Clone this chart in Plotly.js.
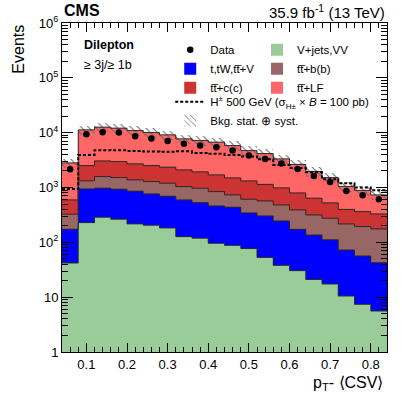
<!DOCTYPE html>
<html>
<head>
<meta charset="utf-8">
<script src="https://cdn.plot.ly/plotly-3.0.1.min.js"></script>
<style>
  html, body { margin: 0; padding: 0; background: #ffffff; }
  #chart { width: 407px; height: 395px; }
</style>
</head>
<body>
<div id="chart"></div>
<script>
// bin edges of pT-<CSV>
const binEdges = [0.04, 0.08, 0.12, 0.16, 0.20, 0.24, 0.28, 0.32, 0.36, 0.40, 0.44,
                  0.48, 0.52, 0.56, 0.60, 0.64, 0.68, 0.72, 0.76, 0.80, 0.84];

// background components (events per bin), bottom of the stack first
const vjetsVV = [42, 229, 287, 264, 217, 205, 183, 127, 119, 96, 88, 77, 53, 38, 30.5, 21, 17.4, 10.5, 7.4, 5.6];
const singleTopV = [131, 714, 684, 667, 639, 559, 510, 467, 411, 365, 349, 267, 250, 208, 142, 115, 94, 62, 49, 37];
const ttbb = [153, 377, 610, 586, 520, 518, 505, 444, 441, 381, 296, 267, 266, 235, 217, 180, 164, 144, 138, 133];
const ttcc = [268, 1192, 1474, 1453, 1321, 1230, 1147, 1057, 956, 856, 764, 709, 571, 503, 407, 322, 249, 182, 169, 154];
const ttlf = [2218, 8738, 9545, 9110, 8223, 7528, 6775, 5615, 5253, 5012, 4323, 3390, 3020, 2341, 1843, 1329, 993, 648, 522, 403];

// observed data and H+ 500 GeV signal
const dataEvents = [2158, 9390, 10200, 10050, 8630, 7810, 7080, 6250, 5820, 5430, 4720, 3820, 3325, 2730, 2185, 1628, 1265, 867, 721, 611];
const signalH = [943, 3935, 4795, 4755, 4655, 4520, 4465, 4560, 4280, 4105, 3935, 3695, 3258, 2584, 2278, 1888, 1417, 1198, 995, 893];

// relative bkg. stat + syst uncertainty per bin
const uncFrac = [0.2, 0.2, 0.2, 0.2, 0.2, 0.2, 0.2, 0.2, 0.2, 0.2, 0.2, 0.2, 0.2, 0.2, 0.2, 0.2, 0.2, 0.2, 0.2, 0.2];

const TT = 't\u0305';  // t-bar
const FONT = 'Liberation Sans, Arial, Helvetica, sans-serif';

const centers = binEdges.slice(0, -1).map((e, i) => (e + binEdges[i + 1]) / 2);
const widths = binEdges.slice(0, -1).map((e, i) => binEdges[i + 1] - e);

// cumulative stack; leg = which legend column it goes in
const components = [
  { name: 'V+jets,VV', vals: vjetsVV, color: '#99cc99', leg: 'legend3', rank: 1 },
  { name: 't,tW,t' + TT + '+V', vals: singleTopV, color: '#0000ff', leg: 'legend', rank: 2 },
  { name: 't' + TT + '+b(b)', vals: ttbb, color: '#996666', leg: 'legend3', rank: 2 },
  { name: 't' + TT + '+c(c)', vals: ttcc, color: '#cc3333', leg: 'legend', rank: 3 },
  { name: 't' + TT + '+LF', vals: ttlf, color: '#ff6666', leg: 'legend3', rank: 3 }
];
let running = centers.map(() => 0);
components.forEach(c => {
  running = running.map((r, i) => r + c.vals[i]);
  c.cum = running.slice();
});
const total = running;

// step outline helper
const stepY = arr => arr.concat([arr[arr.length - 1]]);

const traces = [];

// filled layers, largest first so smaller ones sit on top
components.slice().reverse().forEach(c => {
  traces.push({
    type: 'bar', x: centers, y: c.cum, width: widths,
    name: c.name, legend: c.leg, legendrank: c.rank,
    marker: { color: c.color, line: { width: 0 } },
    hoverinfo: 'skip'
  });
});
// step outlines of each stack boundary
components.forEach(c => {
  traces.push({
    type: 'scatter', mode: 'lines', x: binEdges, y: stepY(c.cum),
    line: { shape: 'hv', color: '#2a2a2a', width: 1 },
    showlegend: false, hoverinfo: 'skip'
  });
});

// uncertainty band
traces.push({
  type: 'bar', x: centers, width: widths,
  base: total.map((t, i) => t * (1 - uncFrac[i])),
  y: total.map((t, i) => 2 * t * uncFrac[i]),
  name: 'Bkg. stat. \u2295 syst.', legend: 'legend2', legendrank: 2,
  marker: {
    color: 'rgba(0,0,0,0)', line: { width: 0 },
    pattern: { shape: '\\', fgcolor: '#666666', bgcolor: 'rgba(0,0,0,0)', size: 5, solidity: 0.2 }
  },
  hoverinfo: 'skip'
});

// signal
traces.push({
  type: 'scatter', mode: 'lines', x: binEdges, y: stepY(signalH),
  name: 'H<sup>\u00b1</sup> 500 GeV (\u03c3<sub>H\u00b1</sub> \u00d7 <i>B</i> = 100 pb)',
  legend: 'legend2', legendrank: 1,
  line: { shape: 'hv', color: '#000000', width: 2, dash: '3px,2px' }
});

// data
traces.push({
  type: 'scatter', mode: 'markers', x: centers, y: dataEvents,
  name: 'Data', legend: 'legend', legendrank: 1,
  marker: { color: '#000000', size: 6.5 },
  error_y: { type: 'data', array: dataEvents.map(v => Math.sqrt(v)), color: '#000000', thickness: 1, width: 0 }
});

const legendBase = {
  xanchor: 'left', yanchor: 'top', orientation: 'v',
  bgcolor: 'rgba(0,0,0,0)', font: { size: 11.5 },
  itemwidth: 30, traceorder: 'normal', tracegroupgap: 0
};

const layout = {
  width: 407, height: 395,
  margin: { l: 62, r: 20, t: 23, b: 43 },
  paper_bgcolor: '#ffffff', plot_bgcolor: '#ffffff',
  font: { family: FONT, size: 13, color: '#000000' },
  barmode: 'overlay', bargap: 0,
  showlegend: true,
  xaxis: {
    range: [0.04, 0.84],
    tickvals: [0.1, 0.2, 0.3, 0.4, 0.5, 0.6, 0.7, 0.8],
    ticktext: ['0.1', '0.2', '0.3', '0.4', '0.5', '0.6', '0.7', '0.8'],
    ticks: 'inside', ticklen: 9, tickcolor: '#000', tickwidth: 1,
    minor: { ticks: 'inside', dtick: 0.02, tick0: 0, ticklen: 5, tickcolor: '#000' },
    showline: true, linecolor: '#000', linewidth: 1, mirror: 'allticks',
    showgrid: false, zeroline: false,
    tickfont: { size: 13 }
  },
  yaxis: {
    type: 'log', range: [0, 6],
    tickvals: [1, 10, 100, 1e3, 1e4, 1e5, 1e6],
    ticktext: ['1', '10', '10<sup>2</sup>', '10<sup>3</sup>', '10<sup>4</sup>', '10<sup>5</sup>', '10<sup>6</sup>'],
    ticks: 'inside', ticklen: 11, tickcolor: '#000', tickwidth: 1,
    minor: { ticks: 'inside', dtick: 'D1', ticklen: 6, tickcolor: '#000' },
    showline: true, linecolor: '#000', linewidth: 1, mirror: 'allticks',
    showgrid: false, zeroline: false,
    tickfont: { size: 13 }
  },
  legend: Object.assign({}, legendBase, { x: 0.333, y: 0.963 }),
  legend3: Object.assign({}, legendBase, { x: 0.60, y: 0.963 }),
  legend2: Object.assign({}, legendBase, { x: 0.333, y: 0.805 }),
  annotations: [
    { text: '<b>CMS</b>', xref: 'paper', yref: 'paper', x: 0, y: 1.005, xanchor: 'left', yanchor: 'bottom',
      showarrow: false, font: { size: 16 } },
    { text: '35.9 fb<sup>-1</sup> (13 TeV)', xref: 'paper', yref: 'paper', x: 1, y: 1.0, xanchor: 'right', yanchor: 'bottom',
      showarrow: false, font: { size: 15 } },
    { text: '<b>Dilepton</b>', xref: 'paper', yref: 'paper', x: 0.06, y: 0.933, xanchor: 'left', yanchor: 'middle',
      showarrow: false, font: { size: 12.5 } },
    { text: '\u2265 3j/\u2265 1b', xref: 'paper', yref: 'paper', x: 0.06, y: 0.872, xanchor: 'left', yanchor: 'middle',
      showarrow: false, font: { size: 12.5 } },
    { text: 'Events', xref: 'paper', yref: 'paper', x: -0.135, y: 1.0, xanchor: 'center', yanchor: 'top',
      textangle: -90, showarrow: false, font: { size: 16 } },
    { text: 'p<sub>T</sub>- \u27e8CSV\u27e9', xref: 'paper', yref: 'paper', x: 0.995, y: -0.06, xanchor: 'right', yanchor: 'top',
      showarrow: false, font: { size: 16 } }
  ]
};

Plotly.newPlot('chart', traces, layout, { displayModeBar: false, staticPlot: true });
</script>
</body>
</html>
